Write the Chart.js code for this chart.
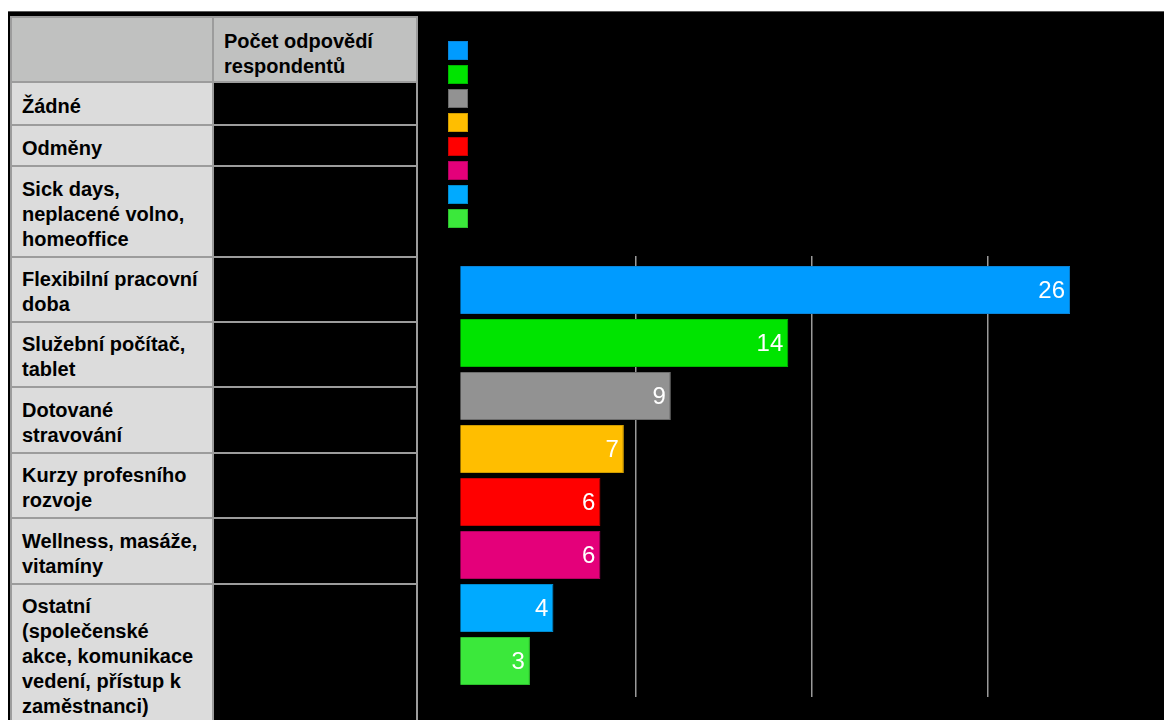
<!DOCTYPE html>
<html lang="cs">
<head>
<meta charset="utf-8">
<title>Benefity zaměstnanců</title>
<script src="https://cdn.jsdelivr.net/npm/chart.js"></script>
<style>
  html, body {
    margin: 0;
    background: #fff;
  }
  body {
    font-family: 'Liberation Sans', Arial, sans-serif;
  }
  .page {
    position: absolute;
    left: 8px;
    top: 11px;
    right: 0;
    bottom: 0;
    background: #000;
    border-top: 1px solid #5a5a5a;
  }
  table.answers {
    position: absolute;
    left: 10px;
    top: 16px;
    border-collapse: collapse;
    table-layout: fixed;
    width: 406px;
  }
  table.answers th,
  table.answers td {
    border: 2px solid #9c9c9c;
    padding: 9px 2px 4px 10px;
    font-size: 20px;
    line-height: 25px;
    font-weight: bold;
    text-align: left;
    vertical-align: middle;
    white-space: nowrap;
    color: #000;
  }
  table.answers th {
    background: #c0c1c0;
    padding-top: 11px;
    padding-bottom: 2px;
  }
  table.answers td.name { background: #dcdcdc; }
  table.answers td.count { background: #000; }
  #legend {
    position: absolute;
    left: 448px;
    top: 41px;
  }
  #legend .swatch {
    display: block;
    box-sizing: border-box;
    width: 20px;
    height: 19px;
    margin-bottom: 5px;
    border: 1px solid;
  }
  #benefitChart {
    position: absolute;
    left: 440px;
    top: 240px;
  }
</style>
</head>
<body>
<div class="page"></div>

<table class="answers">
  <colgroup><col style="width:202px"><col style="width:204px"></colgroup>
  <thead>
    <tr style="height:65px"><th></th><th>Počet odpovědí<br>respondentů</th></tr>
  </thead>
  <tbody id="answerRows"></tbody>
</table>

<div id="legend"></div>
<canvas id="benefitChart" width="724" height="480"></canvas>

<script>
  // rows of the answer table, one entry per line of the label
  const tableRows = [
    ['Žádné'],
    ['Odměny'],
    ['Sick days,', 'neplacené volno,', 'homeoffice'],
    ['Flexibilní pracovní', 'doba'],
    ['Služební počítač,', 'tablet'],
    ['Dotované', 'stravování'],
    ['Kurzy profesního', 'rozvoje'],
    ['Wellness, masáže,', 'vitamíny'],
    ['Ostatní', '(společenské', 'akce, komunikace', 'vedení, přístup k', 'zaměstnanci)']
  ];
  const rowHeights = [43, 41, 91, 65, 65, 66, 65, 66, 140];

  // bars, largest first
  const categories = [
    'Flexibilní pracovní doba',
    'Služební počítač, tablet',
    'Dotované stravování',
    'Kurzy profesního rozvoje',
    'Wellness, masáže, vitamíny',
    'Sick days, neplacené volno, homeoffice',
    'Odměny',
    'Ostatní'
  ];
  const counts = [26, 14, 9, 7, 6, 6, 4, 3];
  const barColors = ['#009bff', '#00e400', '#929292', '#ffbe00', '#ff0000', '#e4007a', '#00aaff', '#3be83b'];
  const edgeColors = ['#0a84d8', '#00b800', '#6c6c6c', '#d09c00', '#c80000', '#b3005f', '#008ccf', '#2cc02c'];
  const gridTicks = [0, 7.5, 15, 22.5, 30];

  // table body
  const tbody = document.getElementById('answerRows');
  tableRows.forEach((lines, r) => {
    const tr = document.createElement('tr');
    tr.style.height = rowHeights[r] + 'px';
    const name = document.createElement('td');
    name.className = 'name';
    name.innerHTML = lines.join('<br>');
    const count = document.createElement('td');
    count.className = 'count';
    tr.appendChild(name);
    tr.appendChild(count);
    tbody.appendChild(tr);
  });

  // value written at the end of each bar
  const valueLabels = {
    id: 'valueLabels',
    afterDatasetsDraw(chart) {
      const ctx = chart.ctx;
      const meta = chart.getDatasetMeta(0);
      ctx.save();
      ctx.fillStyle = '#fff';
      ctx.font = '24px "Liberation Sans", Arial, sans-serif';
      ctx.textAlign = 'right';
      ctx.textBaseline = 'middle';
      meta.data.forEach((bar, i) => {
        ctx.fillText(String(counts[i]), bar.x - 5, bar.y + 1);
      });
      ctx.restore();
    }
  };

  const chart = new Chart(document.getElementById('benefitChart'), {
    type: 'bar',
    data: {
      datasets: [{
        label: 'Počet odpovědí respondentů',
        data: counts.map((v, i) => ({ x: v, y: i })),
        backgroundColor: barColors,
        borderColor: edgeColors,
        borderWidth: 1,
        barPercentage: 1,
        categoryPercentage: 0.906
      }]
    },
    options: {
      indexAxis: 'y',
      responsive: false,
      animation: false,
      layout: { padding: { left: 19.5, right: 0, top: 16, bottom: 23 } },
      plugins: {
        legend: { display: false },
        tooltip: { enabled: false }
      },
      scales: {
        x: {
          min: 0,
          max: 30,
          afterBuildTicks: scale => { scale.ticks = gridTicks.map(v => ({ value: v })); },
          ticks: { display: false },
          border: { display: false },
          grid: {
            drawTicks: false,
            lineWidth: 1.5,
            color: c => (c.tick && c.tick.value > 0 && c.tick.value < 30) ? '#9a9a9a' : 'transparent'
          }
        },
        y: {
          type: 'linear',
          reverse: true,
          offset: false,
          bounds: 'data',
          min: -0.64,
          max: 7.68,
          afterBuildTicks: scale => { scale.ticks = counts.map((v, i) => ({ value: i })); },
          display: false
        }
      }
    },
    plugins: [valueLabels]
  });

  // colour key, one square per bar
  const legendBox = document.getElementById('legend');
  chart.data.datasets[0].data.forEach((point, i) => {
    const sw = document.createElement('span');
    sw.className = 'swatch';
    sw.style.background = barColors[i];
    sw.style.borderColor = edgeColors[i];
    sw.title = categories[i];
    legendBox.appendChild(sw);
  });
</script>
</body>
</html>
